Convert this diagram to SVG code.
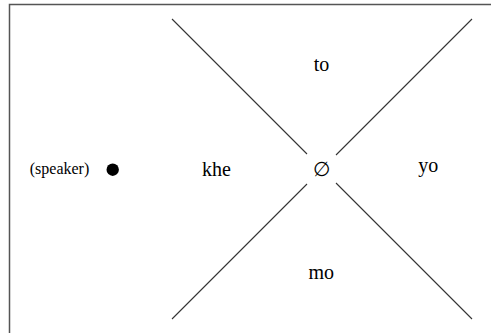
<svg xmlns="http://www.w3.org/2000/svg" width="491" height="333" viewBox="0 0 491 333">
<defs>
<style>
line.ln{stroke:#333;stroke-width:1.1;fill:none}
</style>
</defs>
<rect x="0" y="0" width="491" height="333" fill="#fff"/>
<rect x="9.5" y="4.5" width="520" height="400" fill="none" stroke="#555" stroke-width="1.5"/>
<g id="connectors">
<line class="ln" x1="172" y1="19" x2="307" y2="154"/>
<line class="ln" x1="472" y1="19" x2="336" y2="155"/>
<line class="ln" x1="172" y1="319" x2="307" y2="184"/>
<line class="ln" x1="472" y1="319" x2="336" y2="183"/>
</g>
<g font-family="Liberation Serif, serif" fill="#000" text-anchor="middle" font-size="20">
<g id="speaker">
<text x="59.5" y="174" font-size="16">(speaker)</text>
<circle cx="112.7" cy="169.7" r="6.2" fill="#000"/>
</g>
<g id="to"><text x="321.5" y="71">to</text></g>
<g id="khe"><text x="216.5" y="176">khe</text></g>
<g id="null"><text x="321.5" y="175.5">∅</text></g>
<g id="yo"><text x="428.3" y="171.5">yo</text></g>
<g id="mo"><text x="321.2" y="279">mo</text></g>
</g>
</svg>
